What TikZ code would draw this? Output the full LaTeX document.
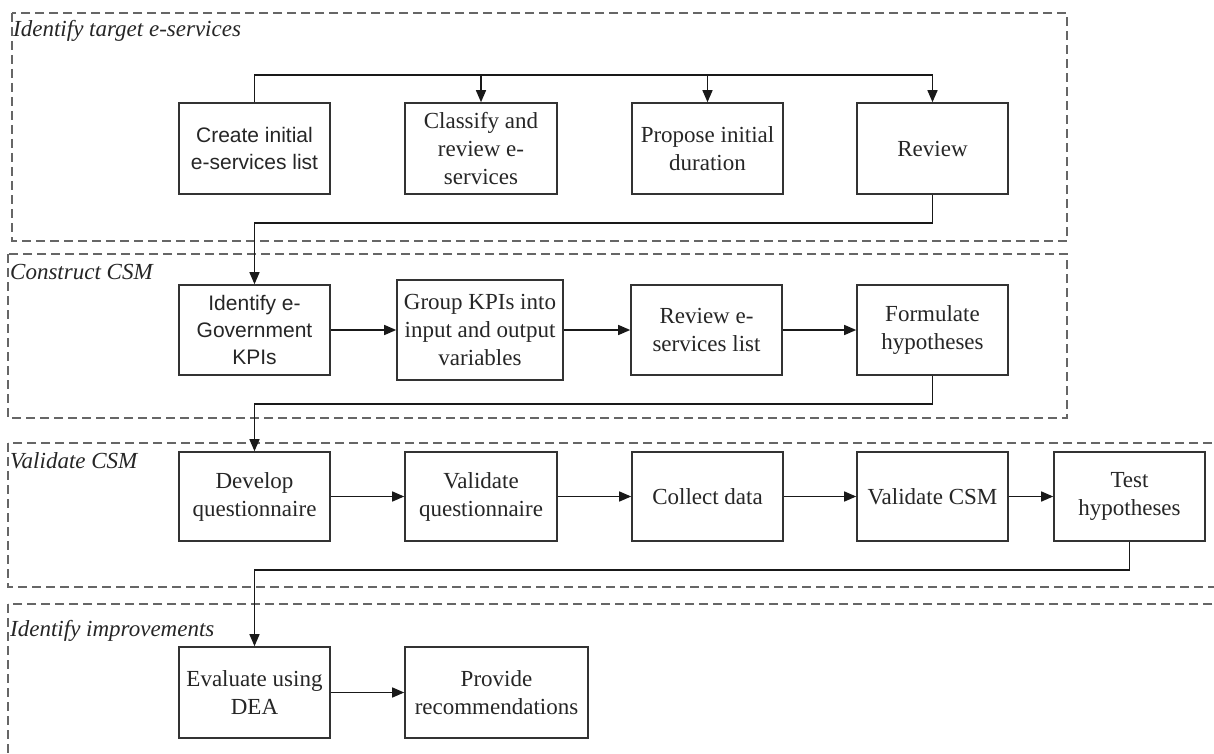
\documentclass[tikz,border=0pt]{standalone}
\usepackage{fontspec}
\setmainfont{Liberation Serif}
\newfontfamily\arialfont{Liberation Sans}
\usetikzlibrary{arrows.meta}
\begin{document}
\begin{tikzpicture}[x=1pt,y=-1pt,
  frame/.style={draw=black!60,line width=2pt,dash pattern=on 9pt off 5pt},
  flabel/.style={anchor=base west,inner sep=0pt,text=black!85,font=\fontsize{23}{28}\selectfont\itshape},
  stepbox/.style={draw=black!80,line width=1.6pt,align=center,inner sep=0pt,text=black!85,
     font=\fontsize{23}{28}\selectfont},
  sansbox/.style={stepbox,font=\arialfont\fontsize{21}{27}\selectfont},
  arr/.style={draw=black!90,line width=1.4pt,-{Triangle[length=12pt,width=10pt]}},
  ln/.style={draw=black!90,line width=1.4pt}]
\useasboundingbox (0,0) rectangle (1214,754);
\fill[white] (0,0) rectangle (1214,754);

% frames
\draw[frame] (12,13) rectangle (1067,241);
\draw[frame] (8,254) rectangle (1067,418);
\draw[frame] (8,443) rectangle (1222,587);
\draw[frame] (8,604) rectangle (1222,762);
\node[flabel] (l1) at (13,37) {Identify target e-services};
\node[flabel] (l2) at (10,279) {Construct CSM};
\node[flabel] (l3) at (10,468) {Validate CSM};
\node[flabel] (l4) at (10,636) {Identify improvements};

% row 1
\node[sansbox,minimum width=151pt,minimum height=91pt] (c1) at (254.5,148.5) {Create initial\\e-services list};
\node[stepbox,minimum width=152pt,minimum height=91pt] (c2) at (481,148.5) {Classify and\\review e-\\services};
\node[stepbox,minimum width=151pt,minimum height=91pt] (c3) at (707.5,148.5) {Propose initial\\duration};
\node[stepbox,minimum width=151pt,minimum height=91pt] (c4) at (932.5,148.5) {Review};

% row 2
\node[sansbox,minimum width=151pt,minimum height=90pt] (d1) at (254.5,330) {Identify e-\\Government\\KPIs};
\node[stepbox,minimum width=166pt,minimum height=100pt] (d2) at (480,330) {Group KPIs into\\input and output\\variables};
\node[stepbox,minimum width=151pt,minimum height=90pt] (d3) at (706.5,330) {Review e-\\services list};
\node[stepbox,minimum width=151pt,minimum height=90pt] (d4) at (932.5,330) {Formulate\\hypotheses};

% row 3
\node[stepbox,minimum width=151pt,minimum height=89pt] (e1) at (254.5,496.5) {Develop\\questionnaire};
\node[stepbox,minimum width=152pt,minimum height=89pt] (e2) at (481,496.5) {Validate\\questionnaire};
\node[stepbox,minimum width=151pt,minimum height=89pt] (e3) at (707.5,496.5) {Collect data};
\node[stepbox,minimum width=151pt,minimum height=89pt] (e4) at (932.5,496.5) {Validate CSM};
\node[stepbox,minimum width=151pt,minimum height=89pt] (e5) at (1129.5,496.5) {Test\\hypotheses};

% row 4
\node[stepbox,minimum width=151pt,minimum height=91pt] (f1) at (254.5,692.5) {Evaluate using\\DEA};
\node[stepbox,minimum width=183pt,minimum height=91pt] (f2) at (496.5,692.5) {Provide\\recommendations};

% connectors
\coordinate (t1) at (932.5,75);
\draw[arr] (c1.north) |- (t1) -- (c4.north);
\draw[arr] (c2.north |- t1) -- (c2.north);
\draw[arr] (c3.north |- t1) -- (c3.north);

\coordinate (b1) at (254.5,223);
\draw[arr] (c4.south) |- (b1) -- (d1.north);

\draw[arr] (d1) -- (d2);
\draw[arr] (d2) -- (d3);
\draw[arr] (d3) -- (d4);

\coordinate (b2) at (254.5,404);
\draw[arr] (d4.south) |- (b2) -- (e1.north);

\draw[arr] (e1) -- (e2);
\draw[arr] (e2) -- (e3);
\draw[arr] (e3) -- (e4);
\draw[arr] (e4) -- (e5);

\coordinate (b3) at (254.5,570);
\draw[arr] (e5.south) |- (b3) -- (f1.north);

\draw[arr] (f1) -- (f2);
\end{tikzpicture}
\end{document}
